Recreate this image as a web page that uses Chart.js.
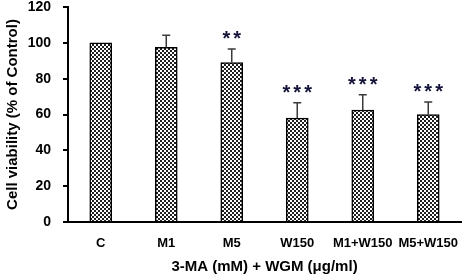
<!DOCTYPE html>
<html>
<head>
<meta charset="UTF-8" />
<script src="https://cdn.jsdelivr.net/npm/chart.js"></script>
<style>
  html, body { margin: 0; padding: 0; background: #fff; }
  #wrap { width: 464px; height: 280px; }
</style>
</head>
<body>
<div id="wrap"><canvas id="chart_viab"></canvas></div>
<script>
  const categories = ['C', 'M1', 'M5', 'W150', 'M1+W150', 'M5+W150'];
  const viability = [100, 97.5, 89, 58, 62.5, 60];
  const errors = [0, 6.8, 7.5, 8.5, 8.5, 7];
  const stars = ['', '', '**', '***', '***', '***'];
  const yTicks = [0, 20, 40, 60, 80, 100, 120];

  const FONT = '"Liberation Sans", Arial, sans-serif';

  // checker fill like the original hatch
  function checker() {
    const c = document.createElement('canvas');
    c.width = 4; c.height = 4;
    const g = c.getContext('2d');
    g.fillStyle = '#fff';
    g.fillRect(0, 0, 4, 4);
    g.fillStyle = '#1e1e1e';
    g.fillRect(0, 0, 2, 2);
    g.fillRect(2, 2, 2, 2);
    return g.createPattern(c, 'repeat');
  }

  const errorBars = {
    id: 'errorBars',
    afterDatasetsDraw(chart) {
      const ctx = chart.ctx;
      const meta = chart.getDatasetMeta(0);
      const y = chart.scales.y;
      ctx.save();
      meta.data.forEach((bar, i) => {
        const topVal = viability[i] + errors[i];
        const yTop = y.getPixelForValue(topVal);
        if (errors[i] > 0) {
          ctx.strokeStyle = '#3a3a3a';
          ctx.lineWidth = 1.5;
          ctx.beginPath();
          ctx.moveTo(bar.x, bar.y);
          ctx.lineTo(bar.x, yTop);
          ctx.moveTo(bar.x - 4, yTop);
          ctx.lineTo(bar.x + 4, yTop);
          ctx.stroke();
        }
        if (stars[i]) {
          ctx.fillStyle = '#14143a';
          ctx.font = 'bold 20px ' + FONT;
          ctx.letterSpacing = '3px';
          ctx.textAlign = 'center';
          ctx.textBaseline = 'alphabetic';
          ctx.fillText(stars[i], bar.x + 1.5, yTop - 4);
        }
      });
      ctx.restore();
    }
  };

  new Chart(document.getElementById('chart_viab'), {
    type: 'bar',
    data: {
      labels: categories,
      datasets: [{
        data: viability,
        backgroundColor: checker(),
        borderColor: '#000',
        borderWidth: 1.5,
        barThickness: 22
      }]
    },
    options: {
      responsive: true,
      maintainAspectRatio: false,
      animation: false,
      layout: { padding: { top: 7, right: 3, left: 0, bottom: 0 } },
      plugins: { legend: { display: false }, tooltip: { enabled: false } },
      scales: {
        x: {
          grid: { display: false },
          border: { color: '#000', width: 2 },
          ticks: {
            color: '#000', autoSkip: false, maxRotation: 0, padding: 6,
            font: { family: FONT, size: 13, weight: 'bold' }
          },
          title: {
            display: true, text: '3-MA (mM) + WGM (μg/ml)', color: '#000',
            padding: { top: 10 },
            font: { family: FONT, size: 15, weight: 'bold' }
          },
          afterFit: s => { s.height = 58; s.paddingLeft = 0; s.paddingRight = 0; }
        },
        y: {
          min: 0, max: 120,
          afterBuildTicks: s => { s.ticks = yTicks.map(v => ({ value: v })); },
          grid: { drawOnChartArea: false, drawTicks: true, tickLength: 5, color: '#000', lineWidth: 2 },
          border: { color: '#000', width: 2 },
          ticks: {
            color: '#000', padding: 12,
            font: { family: FONT, size: 14, weight: 'bold' }
          },
          title: {
            display: true, text: 'Cell viability (% of Control)', color: '#000',
            padding: { bottom: 2 },
            font: { family: FONT, size: 15, weight: 'bold' }
          },
          afterFit: s => { s.width = 68; s.paddingTop = 0; s.paddingBottom = 0; }
        }
      }
    },
    plugins: [errorBars]
  });
</script>
</body>
</html>
